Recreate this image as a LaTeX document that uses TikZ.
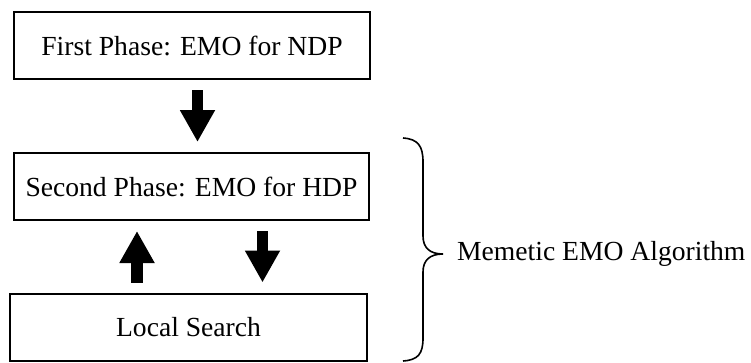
\documentclass[tikz,border=0pt]{standalone}
\usepackage{fontspec}
\setmainfont{Liberation Serif}
\usetikzlibrary{arrows.meta}
\begin{document}
\begin{tikzpicture}[x=1pt,y=-1pt,
  phasebox/.style={draw,line width=2pt,minimum height=67pt,inner sep=0pt,font=\fontsize{27.6}{30}\selectfont},
  blockarrow/.style={line width=11.5pt,-{Triangle[width=33pt,length=32pt]},shorten <=10pt,shorten >=10pt}]
\useasboundingbox (0,0) rectangle (751,362);
\node[phasebox,minimum width=356pt] (b1) at (192,45.5) {First Phase: EMO for NDP};
\node[phasebox,minimum width=355pt] (b2) at (191.5,186.5) {Second Phase: EMO for HDP};
\node[phasebox,minimum width=357pt] (b3) at (188.5,327) {Local Search};
\coordinate (a1) at (197.5,0);
\coordinate (a2) at (137,0);
\coordinate (a3) at (262.5,0);
\draw[blockarrow] (b1.south -| a1) -- (b2.north -| a1);
\draw[blockarrow] (b3.north -| a2) -- (b2.south -| a2);
\draw[blockarrow] (b2.south -| a3) -- (b3.north -| a3);
\coordinate (bt) at (403,138);
\coordinate (bm) at (443,254);
\coordinate (bb) at (403,361);
\draw[line width=1.6pt] (bt) .. controls (418,139) and (423,146) .. (423,162)
  -- (423,236) .. controls (423,248) and (430,254) .. (bm)
  .. controls (430,254) and (423,260) .. (423,272)
  -- (423,338) .. controls (423,354) and (418,360) .. (bb);
\node[font=\fontsize{27.6}{30}\selectfont,anchor=west,inner sep=0pt] (lab) at (457,254) {Memetic EMO Algorithm};
\end{tikzpicture}
\end{document}
